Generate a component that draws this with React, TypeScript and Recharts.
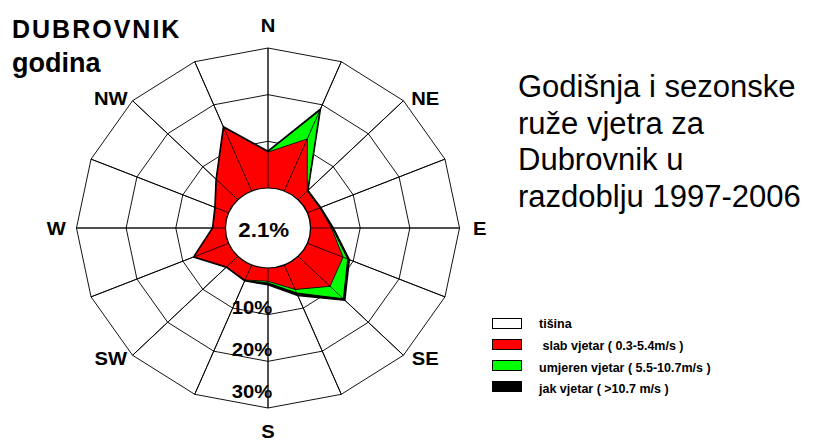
import { Fragment } from "react";
import * as Recharts from "recharts";
import {
    RadarChart, Radar, PolarGrid, PolarAngleAxis, PolarRadiusAxis, Customized
} from "recharts";

// wind directions, clockwise from north
const directions = ["N", "NNE", "NE", "ENE", "E", "ESE", "SE", "SSE", "S", "SSW", "SW", "WSW", "W", "WNW", "NW", "NNW"];
const shownDirections = ["N", "NE", "E", "SE", "S", "SW", "W", "NW"];

// frequency (%) per direction and wind class
const weakWind = [7.7, 12.1, 2.6, 2.7, 4.2, 7.8, 9.1, 5.7, 2.85, 3.5, 3.2, 7.5, 2.5, 2.9, 6.1, 14.7];
const moderateWind = [0.1, 6.6, 0.1, 0.1, 0.2, 1.0, 3.8, 0.8, 0.35, 0.1, 0, 0, 0, 0, 0, 0];
const strongWind = [0.1, 0.3, 0.1, 0.1, 0.2, 0.35, 0.4, 0.6, 0.4, 0.1, 0.1, 0.15, 0.1, 0.1, 0.1, 0.2];
const calmShare = 2.1;
const ringDomain = [0, 30];

const legendItems = [
    { label: "tišina", color: "#ffffff" },
    { label: " slab vjetar ( 0.3-5.4m/s )", color: "#ff0000" },
    { label: "umjeren vjetar ( 5.5-10.7m/s )", color: "#00ff00" },
    { label: "jak vjetar ( >10.7 m/s )", color: "#000000" },
];

const titleLines = ["Godišnja i sezonske", "ruže vjetra za", "Dubrovnik u", "razdoblju 1997-2006"];

const data = directions.map((dir, i) => ({
    dir,
    weak: weakWind[i],
    moderate: weakWind[i] + moderateWind[i],
    strong: weakWind[i] + moderateWind[i] + strongWind[i],
}));

const FONT = "'Liberation Sans', Arial, sans-serif";
const CX = 268;
const CY = 228;
const INNER = 40;
const OUTER = 180;
const STRETCH = 1.064;

// z-index layer if this recharts build has one, so the calm circle sits above the radars
const ZLayer: any = (Recharts as any).ZIndexLayer ?? Fragment;

const AngleTick = (props: any) => {
    const { payload } = props;
    if (!shownDirections.includes(payload.value)) return null;
    const rad = (-payload.coordinate * Math.PI) / 180;
    const diagonal = payload.value.length === 2;
    const rx = diagonal ? 209 : 199;
    const ry = diagonal ? 184 : 203;
    return (
        <text
            x={CX + rx * Math.cos(rad)}
            y={CY + ry * Math.sin(rad)}
            textAnchor="middle"
            dominantBaseline="central"
            fontFamily={FONT}
            fontWeight="bold"
            fontSize={19}
            fill="#000"
        >
            {payload.value}
        </text>
    );
};

const RingTick = (props: any) => {
    const { x, y, payload } = props;
    if (!payload.value) return null;
    // labels sit a bit further above the outer rings
    const lift = 2 + payload.value * 0.5;
    return (
        <text x={x + 4} y={y - lift} textAnchor="end" dominantBaseline="central"
            fontFamily={FONT} fontWeight="bold" fontSize={19} fill="#000">
            {payload.value}%
        </text>
    );
};

const CalmCircle = () => {
    const props = ZLayer === Fragment ? {} : { zIndex: 700 };
    return (
        <ZLayer {...props}>
            <g>
                <circle cx={CX} cy={CY} r={INNER} fill="#fff" stroke="#000" strokeWidth={1.2} />
                <text x={CX - 4} y={CY + 2} textAnchor="middle" dominantBaseline="central"
                    fontFamily={FONT} fontWeight="bold" fontSize={21} fill="#000">
                    {calmShare}%
                </text>
            </g>
        </ZLayer>
    );
};

export default function App() {
    return (
        <div style={{ position: "absolute", left: 0, top: 0, width: 814, height: 443, background: "#fff", overflow: "hidden" }}>
            <div style={{ position: "absolute", left: 0, top: 0, width: 540, height: 443, transform: `scaleX(${STRETCH})`, transformOrigin: `${CX}px ${CY}px` }}>
                <RadarChart width={540} height={443} data={data} cx={CX} cy={CY}
                    innerRadius={INNER} outerRadius={OUTER} margin={{ top: 0, right: 0, bottom: 0, left: 0 }}>
                    <PolarGrid gridType="polygon" stroke="#000" strokeWidth={0.9} />
                    <PolarAngleAxis dataKey="dir" tick={<AngleTick />} axisLine={false} tickLine={false} />
                    <PolarRadiusAxis angle={-90} domain={ringDomain} tickCount={4} tick={<RingTick />} axisLine={false} tickLine={false} />
                    <Radar dataKey="strong" fill="#000" fillOpacity={1} stroke="#000" strokeWidth={1.5} dot={false} isAnimationActive={false} />
                    <Radar dataKey="moderate" fill="#00ff00" fillOpacity={1} stroke="#000" strokeWidth={1} dot={false} isAnimationActive={false} />
                    <Radar dataKey="weak" fill="#ff0000" fillOpacity={1} stroke="#000" strokeWidth={0.8} dot={false} isAnimationActive={false} />
                    <PolarGrid gridType="polygon" polarRadius={[]} stroke="#000" strokeWidth={0.8} zIndex={600} />
                    <Customized component={<CalmCircle />} />
                </RadarChart>
            </div>

            <svg width={814} height={443} style={{ position: "absolute", left: 0, top: 0, pointerEvents: "none" }}>
                <text x={12} y={38} fontFamily={FONT} fontWeight="bold" fontSize={25} letterSpacing={2}>DUBROVNIK</text>
                <text x={12} y={72} fontFamily={FONT} fontWeight="bold" fontSize={27}>godina</text>

                {titleLines.map((line, i) => (
                    <text key={line} x={518} y={97 + i * 36.7} fontFamily={FONT} fontSize={31} fill="#000">{line}</text>
                ))}

                {legendItems.map((item, i) => (
                    <g key={item.label}>
                        <rect x={492.5} y={318.5 + i * 21} width={29} height={10} fill={item.color} stroke="#000" strokeWidth={1} />
                        <text x={539} y={328 + i * 21.8} fontFamily={FONT} fontWeight="bold" fontSize={12.5} fill="#000" style={{ whiteSpace: "pre" }}>
                            {item.label}
                        </text>
                    </g>
                ))}
            </svg>
        </div>
    );
}
